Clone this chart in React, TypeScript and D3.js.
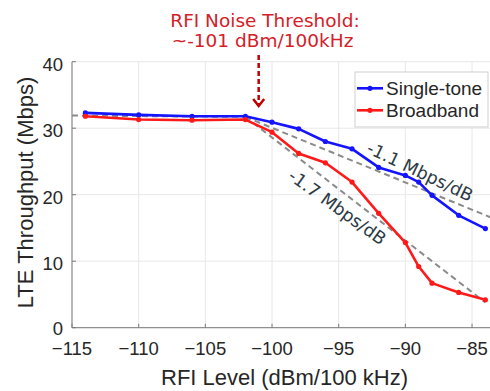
import React from "react";
import * as d3 from "d3";

const width = 490;
const height = 391;

// RFI level (dBm/100 kHz)
const rfiLevels = [-114, -110, -106, -102, -100, -98, -96, -94, -92, -90, -89, -88, -86, -84];
const singleTone = [32.3, 32.0, 31.8, 31.8, 30.9, 29.9, 28.0, 26.9, 24.1, 22.9, 21.9, 19.9, 16.9, 14.9];
const broadband = [31.8, 31.3, 31.2, 31.3, 29.4, 26.2, 24.8, 21.9, 17.2, 12.8, 9.2, 6.7, 5.3, 4.2];

// dashed fit lines [x, y]
const fitFlat = [[-115, 31.9], [-102, 31.7]];
const fitSingle = [[-102, 31.7], [-83, 16.1]];
const fitBroad = [[-102, 31.7], [-84, 3.8]];

const xTicks = [-115, -110, -105, -100, -95, -90, -85];
const yTicks = [0, 10, 20, 30, 40];
const thresholdX = -101;

const seriesNames = ["Single-tone", "Broadband"];
const colors = ["#1414ff", "#ff1a1a"];

const marginLeft = 72;
const plotRight = 498.7;
const marginTop = 61.7;
const plotBottom = 327.7;

const fmt = (d: number) => (d < 0 ? `\u2212${Math.abs(d)}` : `${d}`);

export default function App() {
    const x = d3.scaleLinear([-115, -83], [marginLeft, plotRight]);
    const y = d3.scaleLinear([0, 40], [plotBottom, marginTop]);

    const line = d3
        .line<number>()
        .x((d: number, i: number) => x(rfiLevels[i]))
        .y((d: number) => y(d));

    const fitLine = d3
        .line<number[]>()
        .x((d) => x(d[0]))
        .y((d) => y(d[1]));

    const series = [singleTone, broadband];
    const ax = x(thresholdX);

    return (
        <svg
            width={width}
            height={height}
            style={{ position: "absolute", top: 0, left: 0, background: "#fff" }}
            fontFamily="'Liberation Sans', Arial, sans-serif"
        >
            {/* grid */}
            <g stroke="#e8e8e8" strokeWidth={1}>
                {xTicks.map((t) => (
                    <line key={`gx${t}`} x1={x(t)} x2={x(t)} y1={marginTop} y2={plotBottom} />
                ))}
                {yTicks.map((t) => (
                    <line key={`gy${t}`} x1={marginLeft} x2={width} y1={y(t)} y2={y(t)} />
                ))}
            </g>
            {/* axes */}
            <g stroke="#7a7a7a" strokeWidth={1}>
                <line x1={marginLeft} x2={marginLeft} y1={marginTop} y2={plotBottom} />
                <line x1={marginLeft} x2={width} y1={plotBottom} y2={plotBottom} />
                {xTicks.map((t) => (
                    <line key={`tx${t}`} x1={x(t)} x2={x(t)} y1={plotBottom} y2={plotBottom - 4} />
                ))}
                {yTicks.map((t) => (
                    <line key={`ty${t}`} x1={marginLeft} x2={marginLeft + 4} y1={y(t)} y2={y(t)} />
                ))}
            </g>
            <g fontSize={18.5} fill="#262626">
                {xTicks.map((t) => (
                    <text key={`lx${t}`} x={x(t)} y={355} textAnchor="middle">
                        {fmt(t)}
                    </text>
                ))}
                {yTicks.map((t) => (
                    <text key={`ly${t}`} x={63} y={y(t) + (t === 0 ? 7.5 : 9)} textAnchor="end">
                        {t}
                    </text>
                ))}
            </g>
            <text x={284.5} y={385} textAnchor="middle" fontSize={22} fill="#262626">
                RFI Level (dBm/100 kHz)
            </text>
            <text
                transform={`translate(33,192.5) rotate(-90)`}
                textAnchor="middle"
                fontSize={22}
                fill="#262626"
            >
                LTE Throughput (Mbps)
            </text>

            {/* fit lines */}
            <g fill="none" stroke="#8a8a8a" strokeWidth={2} strokeDasharray="6,4">
                <path d={fitLine(fitFlat) || ""} />
                <path d={fitLine(fitSingle) || ""} />
                <path d={fitLine(fitBroad) || ""} />
            </g>

            {/* data */}
            {series.map((s, i) => (
                <g key={`s${i}`}>
                    <path d={line(s) || ""} fill="none" stroke={colors[i]} strokeWidth={2.6} strokeLinejoin="round" />
                    {s.map((v, j) => (
                        <circle key={j} cx={x(rfiLevels[j])} cy={y(v)} r={2.6} fill={colors[i]} />
                    ))}
                </g>
            ))}

            {/* slope labels */}
            <g fontFamily="'DejaVu Sans', Verdana, sans-serif" fontSize={17.5} fill="#2b3a44" textAnchor="middle">
                <text transform="translate(420,171.7) rotate(25.5)" dominantBaseline="central">
                    -1.1 Mbps/dB
                </text>
                <text transform="translate(337.3,207.3) rotate(35.7)" dominantBaseline="central">
                    -1.7 Mbps/dB
                </text>
            </g>

            {/* legend */}
            <g>
                <rect x={355} y={72} width={133} height={55} fill="#fff" stroke="#cfcfcf" strokeWidth={1} />
                {seriesNames.map((name, i) => (
                    <g key={name} transform={`translate(0,${88.3 + i * 22})`}>
                        <line x1={357} x2={383} y1={0} y2={0} stroke={colors[i]} strokeWidth={2.6} />
                        <circle cx={370} cy={0} r={2.6} fill={colors[i]} />
                        <text x={386} y={6.5} fontSize={19} fill="#262626">
                            {name}
                        </text>
                    </g>
                ))}
            </g>

            {/* threshold annotation */}
            <g fontFamily="'DejaVu Sans', Verdana, sans-serif" fontSize={18.5} fill="#d42028" textAnchor="middle">
                <text x={265} y={26.7}>RFI Noise Threshold:</text>
                <text x={262.5} y={47}>~-101 dBm/100kHz</text>
            </g>
            <g stroke="#c00000" strokeWidth={2.5} fill="none">
                <line x1={ax} x2={ax} y1={55} y2={104} strokeDasharray="5,3" />
                <polyline points={`${ax - 5.5},${99} ${ax},${106} ${ax + 5.5},${99}`} />
            </g>
        </svg>
    );
}
